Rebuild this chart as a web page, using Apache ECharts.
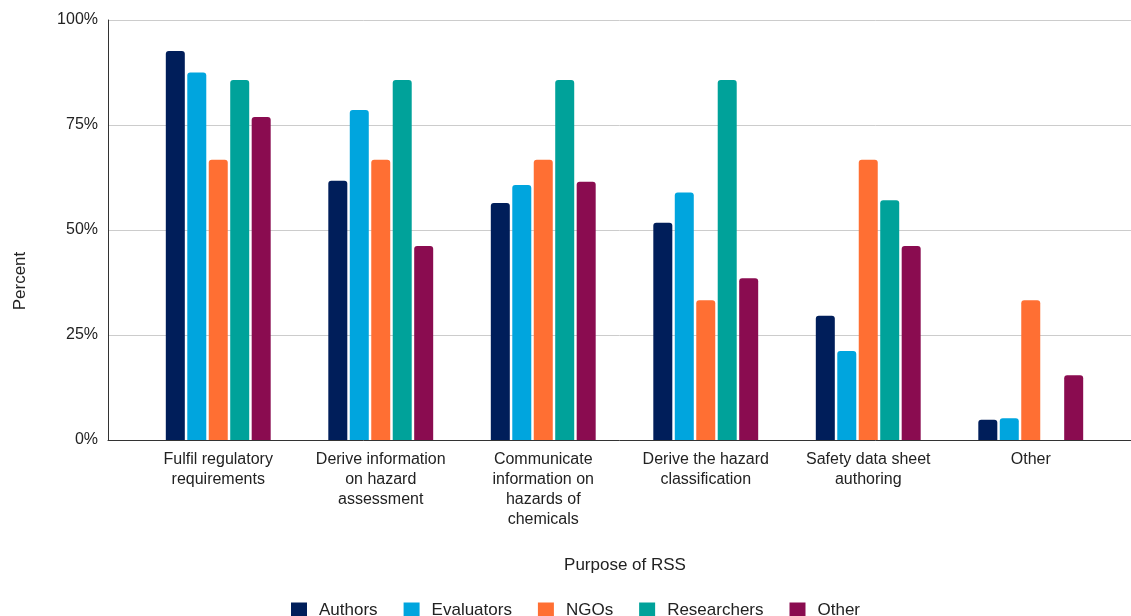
<!DOCTYPE html>
<html>
<head>
<meta charset="utf-8">
<title>Purpose of RSS</title>
<script src="https://cdn.jsdelivr.net/npm/echarts@6/dist/echarts.min.js"></script>
<style>
  html, body { margin: 0; padding: 0; background: #ffffff; }
  #chart { width: 1131px; height: 616px; }
</style>
</head>
<body>
<div id="chart"></div>
<script>
// Purposes (category axis), wrapped as they appear under the axis
const categories = [
  'Fulfil regulatory\nrequirements',
  'Derive information\non hazard\nassessment',
  'Communicate\ninformation on\nhazards of\nchemicals',
  'Derive the hazard\nclassification',
  'Safety data sheet\nauthoring',
  'Other'
];

// Share of each respondent group (percent)
const authors     = [92.6, 61.7, 56.4, 51.7, 29.6, 4.8];
const evaluators  = [87.5, 78.6, 60.7, 58.9, 21.2, 5.2];
const ngos        = [66.7, 66.7, 66.7, 33.3, 66.7, 33.3];
const researchers = [85.7, 85.7, 85.7, 85.7, 57.1, 0];
const other       = [76.9, 46.2, 61.5, 38.5, 46.2, 15.4];

const seriesNames  = ['Authors', 'Evaluators', 'NGOs', 'Researchers', 'Other'];
const seriesColors = ['#001E5A', '#00A5DE', '#FF6F33', '#00A29A', '#8A0C50'];

const yTicks = [0, 25, 50, 75, 100];

const FONT = "'Liberation Sans', Arial, sans-serif";
const TEXT = '#222222';

const chart = echarts.init(document.getElementById('chart'), null, { renderer: 'canvas' });

const seriesData = [authors, evaluators, ngos, researchers, other];

const option = {
  backgroundColor: '#ffffff',
  animation: false,
  textStyle: { fontFamily: FONT, color: TEXT },
  grid: [
    // frame: value axis, gridlines and baseline across the full width
    { left: 108, right: 0, top: 20, bottom: 176 },
    // bars and category labels
    { left: 137, right: 19, top: 20, bottom: 176 }
  ],
  xAxis: [
    {
      gridIndex: 0, type: 'value', min: 0, max: 1,
      axisLine: { show: true, lineStyle: { color: '#333333', width: 1 } },
      axisTick: { show: false }, axisLabel: { show: false }, splitLine: { show: false }
    },
    {
      gridIndex: 1, type: 'category', data: categories,
      axisLine: { show: false }, axisTick: { show: false },
      axisLabel: {
        interval: 0, margin: 10, fontSize: 16, lineHeight: 20,
        color: TEXT, fontFamily: FONT, align: 'center', verticalAlign: 'top'
      }
    }
  ],
  yAxis: [
    {
      gridIndex: 0, type: 'value', min: yTicks[0], max: yTicks[yTicks.length - 1], interval: 25,
      axisLine: { show: true, lineStyle: { color: '#333333', width: 1 } },
      axisTick: { show: false },
      axisLabel: {
        margin: 10, fontSize: 16, color: TEXT, fontFamily: FONT,
        formatter: v => v + '%'
      },
      splitLine: { show: true, lineStyle: { color: '#cccccc', width: 1 } }
    },
    {
      gridIndex: 1, type: 'value', min: yTicks[0], max: yTicks[yTicks.length - 1],
      show: false, splitLine: { show: false }
    }
  ],
  legend: {
    data: seriesNames,
    left: 286, top: 597,
    itemWidth: 16, itemHeight: 16, itemGap: 26,
    icon: 'rect',
    textStyle: { fontSize: 17, color: TEXT, fontFamily: FONT, padding: [0, 0, 0, 7] }
  },
  graphic: [
    {
      type: 'text', x: 20, y: 281, rotation: Math.PI / 2,
      style: { text: 'Percent', fontSize: 17, fontFamily: FONT, fill: TEXT,
               textAlign: 'center', textVerticalAlign: 'middle' }
    },
    {
      type: 'text', x: 625, y: 565,
      style: { text: 'Purpose of RSS', fontSize: 17, fontFamily: FONT, fill: TEXT,
               textAlign: 'center', textVerticalAlign: 'middle' }
    }
  ],
  series: seriesNames.map((name, i) => ({
    name: name,
    type: 'bar',
    xAxisIndex: 1, yAxisIndex: 1,
    data: seriesData[i],
    barWidth: 19,
    barGap: '13%',
    itemStyle: { color: seriesColors[i], borderRadius: [3, 3, 0, 0] }
  }))
};

chart.setOption(option);
</script>
</body>
</html>
